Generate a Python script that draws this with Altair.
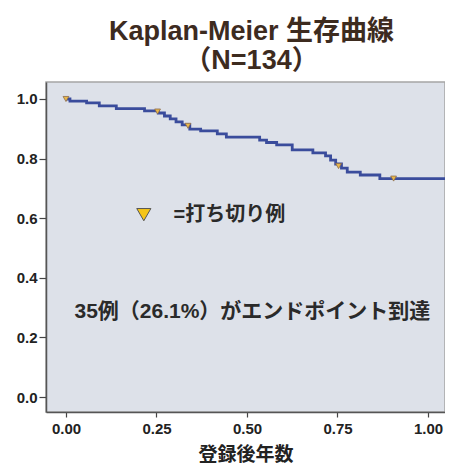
import altair as alt
import pandas as pd

# Kaplan-Meier step curve (years since enrolment, survival)
times = [0.0, 0.011, 0.057, 0.092, 0.139, 0.217, 0.255, 0.272, 0.288, 0.304,
         0.321, 0.342, 0.372, 0.418, 0.443, 0.535, 0.554, 0.582, 0.625, 0.682,
         0.717, 0.731, 0.745, 0.761, 0.777, 0.813, 0.867, 1.05]
surv = [1.0, 0.993, 0.987, 0.977, 0.968, 0.960, 0.953, 0.943, 0.933, 0.923,
        0.913, 0.899, 0.893, 0.883, 0.872, 0.862, 0.854, 0.846, 0.829, 0.819,
        0.809, 0.795, 0.782, 0.768, 0.755, 0.745, 0.733, 0.733]

# censored observations
censor_t = [0.0, 0.253, 0.337, 0.753, 0.905]
censor_s = [1.0, 0.958, 0.910, 0.775, 0.733]

x_ticks = [0.0, 0.25, 0.5, 0.75, 1.0]
y_ticks = [0.0, 0.2, 0.4, 0.6, 0.8, 1.0]

title_lines = ["Kaplan-Meier 生存曲線", "（N=134）"]
x_title = "登録後年数"
legend_label = "=打ち切り例"
legend_pos = [0.215, 0.612]
legend_text_pos = [0.297, 0.611]
note_text = "35例（26.1%）がエンドポイント到達"
note_pos = [0.515, 0.285]

FONT = "Liberation Sans, Noto Sans CJK JP"

xs = alt.Scale(domain=[-0.0552, 1.047], nice=False, zero=False)
ys = alt.Scale(domain=[-0.05, 1.057], nice=False, zero=False)

x_axis = alt.Axis(values=x_ticks, format=".2f", title=x_title, grid=False,
                  labelFont=FONT, labelFontSize=15, labelFontWeight="bold",
                  labelColor="#222222", tickSize=5, tickColor="#444444",
                  tickWidth=1.2, domainColor="#555555", domainWidth=1.5,
                  labelPadding=4, labelFlush=False, labelOverlap=False,
                  titleFont=FONT, titleFontSize=19,
                  titleFontWeight="bold", titleColor="#222222", titlePadding=9)
y_axis = alt.Axis(values=y_ticks, format=".1f", title="", grid=False,
                  labelFont=FONT, labelFontSize=15, labelFontWeight="bold",
                  labelColor="#222222", tickSize=7, tickColor="#444444",
                  tickWidth=1.2, domainColor="#555555", domainWidth=1.5,
                  labelPadding=2)

curve = pd.DataFrame({"t": times, "s": surv})
cens = pd.DataFrame({"t": censor_t, "s": censor_s})
leg = pd.DataFrame({"t": [legend_pos[0]], "s": [legend_pos[1]]})
leg_txt = pd.DataFrame({"t": [legend_text_pos[0]], "s": [legend_text_pos[1]], "label": [legend_label]})
note = pd.DataFrame({"t": [note_pos[0]], "s": [note_pos[1]], "label": [note_text]})

line = alt.Chart(curve).mark_line(
    interpolate="step-after", color="#3a4c9c", strokeWidth=2.8, clip=True
).encode(
    x=alt.X("t:Q", scale=xs, axis=x_axis),
    y=alt.Y("s:Q", scale=ys, axis=y_axis),
)

censor_marks = alt.Chart(cens).mark_point(
    shape="triangle-down", filled=True, fill="#e9b84a", stroke="#8b6b4b",
    strokeWidth=0.8, size=34, opacity=1
).encode(x=alt.X("t:Q", scale=xs), y=alt.Y("s:Q", scale=ys))

legend_mark = alt.Chart(leg).mark_point(
    shape="triangle-down", filled=True, fill="#f5c518", stroke="#555555",
    strokeWidth=1, size=200, opacity=1
).encode(x=alt.X("t:Q", scale=xs), y=alt.Y("s:Q", scale=ys))

legend_text = alt.Chart(leg_txt).mark_text(
    align="left", baseline="middle", font=FONT, fontSize=20,
    fontWeight="bold", color="#2a2a2a"
).encode(x=alt.X("t:Q", scale=xs), y=alt.Y("s:Q", scale=ys), text="label:N")

note_mark = alt.Chart(note).mark_text(
    align="center", baseline="middle", font=FONT, fontSize=21,
    fontWeight="bold", color="#2a2a2a"
).encode(x=alt.X("t:Q", scale=xs), y=alt.Y("s:Q", scale=ys), text="label:N")

chart = alt.layer(line, censor_marks, legend_mark, legend_text, note_mark).properties(
    width=399, height=330,
    title=alt.TitleParams(text=title_lines, font=FONT, fontSize=27,
                          fontWeight="bold", color="#3d2b1f", lineHeight=29,
                          anchor="middle", dx=6, offset=7),
    autosize=alt.AutoSizeParams(type="none"),
    padding={"left": 38, "top": 74, "right": 0, "bottom": 51},
    background="#ffffff",
).configure_view(
    fill="#dde1e9", stroke="#a5a5a5", strokeWidth=1.5
)

chart.save("out.html", embed_options={"renderer": "svg", "actions": False})
